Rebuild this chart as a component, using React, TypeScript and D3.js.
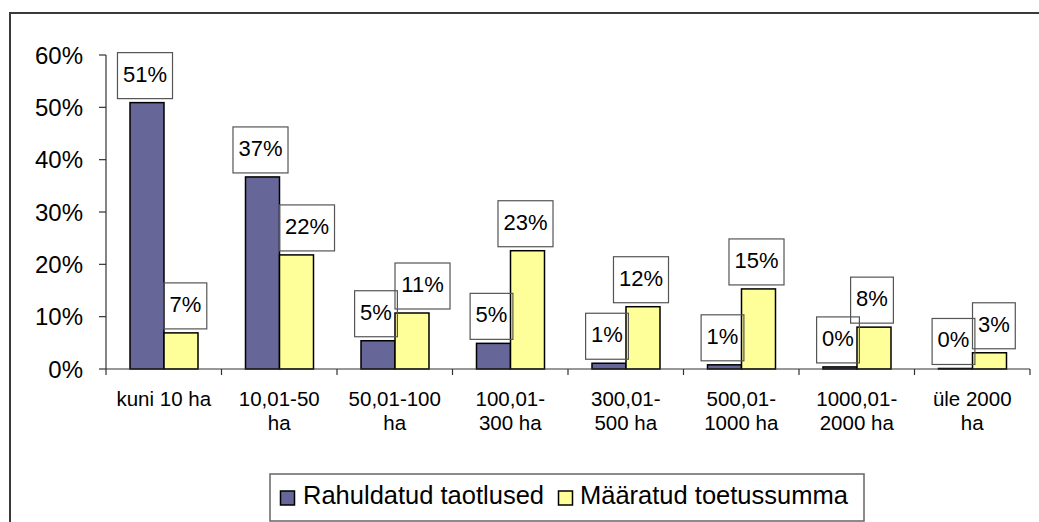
import React from "react";
import * as d3 from "d3";

const categories: string[][] = [
  ["kuni 10 ha"],
  ["10,01-50", "ha"],
  ["50,01-100", "ha"],
  ["100,01-", "300 ha"],
  ["300,01-", "500 ha"],
  ["500,01-", "1000 ha"],
  ["1000,01-", "2000 ha"],
  ["üle 2000", "ha"],
];
const seriesNames = ["Rahuldatud taotlused", "Määratud toetussumma"];
const rahuldatud = [50.9, 36.7, 5.4, 4.9, 1.1, 0.8, 0.4, 0.1];
const maaratud = [6.9, 21.8, 10.7, 22.6, 11.9, 15.3, 8.0, 3.1];
const yTicks = [0, 10, 20, 30, 40, 50, 60];
const colors = ["#666699", "#FFFF99"];

const W = 1039;
const H = 522;
const FONT = "'Liberation Sans', Arial, Helvetica, sans-serif";

function textWidth(s: string, size: number): number {
  let w = 0;
  for (const ch of s) {
    if (ch === "%") w += 0.889;
    else w += 0.556;
  }
  return w * size;
}

export default function App() {
  const x0 = d3.scaleBand<number>().domain(d3.range(categories.length)).range([106, 1030]).padding(0);
  const step = x0.step();
  const x1 = d3
    .scaleBand<number>()
    .domain([0, 1])
    .range([step * 0.2078, step * 0.7965])
    .padding(0);
  const y = d3.scaleLinear().domain([0, 60]).range([369, 55]);

  const LBL = 22;
  const boxH = 46;
  const pad = 11;

  type Box = { x: number; y: number; w: number; text: string };
  const labels: Box[] = [];
  categories.forEach((_, i) => {
    const vals = [rahuldatud[i], maaratud[i]];
    const bars = vals.map((v, s) => ({
      x: x0(i)! + x1(s)!,
      y: y(v),
      w: x1.bandwidth(),
      h: y(0) - y(v),
    }));
    const boxes = vals.map((v, s) => {
      const text = `${Math.round(v)}%`;
      const w = textWidth(text, LBL) + pad;
      const cx = bars[s].x + bars[s].w / 2 - 2;
      return { x: cx - w / 2, y: bars[s].y - 4 - boxH, w, text };
    });
    const b = boxes[1];
    const a = boxes[0];
    const bar0 = bars[0];
    const hitsBar = b.x < bar0.x + bar0.w && b.y + boxH > bar0.y;
    const vOverlap = Math.min(b.y + boxH, a.y + boxH) - Math.max(b.y, a.y);
    const hOverlap = b.x < a.x + a.w;
    if (hitsBar || (hOverlap && vOverlap > 10)) {
      b.x = bar0.x + bar0.w;
    }
    labels.push(boxes[0], boxes[1]);
  });

  return (
    <div style={{ position: "fixed", left: 0, top: 0 }}>
      <svg width={W} height={H} style={{ display: "block", background: "#fff" }} fontFamily={FONT}>
        <rect x={10} y={13} width={1200} height={700} fill="#fff" stroke="#3a3a3a" strokeWidth={2} />

        {categories.map((_, i) =>
          [rahuldatud[i], maaratud[i]].map((v, s) => (
            <rect
              key={`b${i}-${s}`}
              x={x0(i)! + x1(s)!}
              y={y(v)}
              width={x1.bandwidth()}
              height={y(0) - y(v)}
              fill={colors[s]}
              stroke="#000"
              strokeWidth={1.5}
            />
          ))
        )}

        <line x1={106} x2={106} y1={y(60)} y2={y(0)} stroke="#333" strokeWidth={1.2} />
        {yTicks.map((t) => (
          <g key={`yt${t}`}>
            <line x1={99} x2={106} y1={y(t)} y2={y(t)} stroke="#333" strokeWidth={1.2} />
            <text x={83} y={y(t) + 8.5} textAnchor="end" fontSize={24} fill="#000">
              {`${t}%`}
            </text>
          </g>
        ))}
        <line x1={106} x2={1030} y1={y(0)} y2={y(0)} stroke="#333" strokeWidth={1.2} />
        {d3.range(categories.length + 1).map((i) => (
          <line
            key={`xt${i}`}
            x1={106 + i * step}
            x2={106 + i * step}
            y1={y(0)}
            y2={y(0) + 6}
            stroke="#333"
            strokeWidth={1.2}
          />
        ))}
        {categories.map((lines, i) => (
          <text key={`cl${i}`} textAnchor="middle" fontSize={20.5} fill="#000">
            {lines.map((ln, k) => (
              <tspan key={k} x={x0(i)! + step / 2} y={406 + k * 23.5}>
                {ln}
              </tspan>
            ))}
          </text>
        ))}

        {labels.map((b, k) => (
          <g key={`lb${k}`}>
            <rect x={b.x} y={b.y} width={b.w} height={boxH} fill="none" stroke="#555" strokeWidth={1.2} />
            <text x={b.x + b.w / 2} y={b.y + 29} textAnchor="middle" fontSize={LBL} fill="#000">
              {b.text}
            </text>
          </g>
        ))}

        <rect x={270} y={474} width={594} height={47} fill="#fff" stroke="#666" strokeWidth={1.5} />
        <rect x={280.5} y={491} width={14} height={14} fill={colors[0]} stroke="#000" strokeWidth={1.5} />
        <text x={303} y={504} fontSize={25.5} fill="#000">
          {seriesNames[0]}
        </text>
        <rect x={558.5} y={491} width={14} height={14} fill={colors[1]} stroke="#000" strokeWidth={1.5} />
        <text x={580} y={504} fontSize={25.5} fill="#000">
          {seriesNames[1]}
        </text>
      </svg>
    </div>
  );
}
